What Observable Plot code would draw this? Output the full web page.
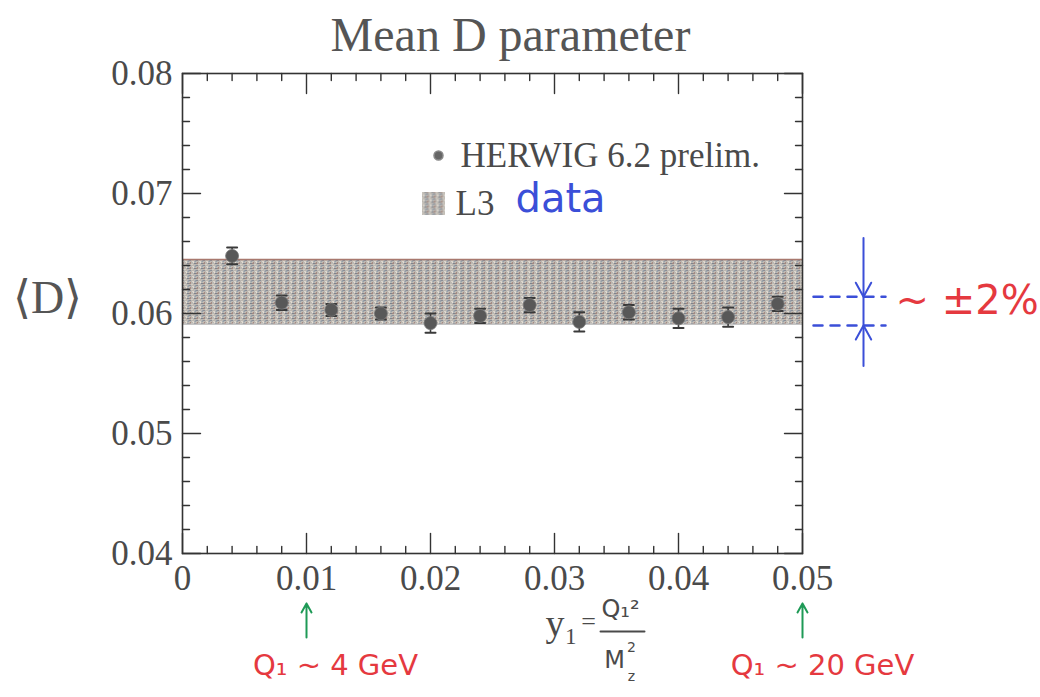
<!DOCTYPE html>
<html>
<head>
<meta charset="utf-8">
<script src="https://cdn.jsdelivr.net/npm/d3@7"></script>
<script src="https://cdn.jsdelivr.net/npm/@observablehq/plot@0.6"></script>
<style>
  body { margin: 0; background: #fff; }
  svg { display: block; }
</style>
</head>
<body>
<div id="chart"></div>
<script>
// ---- data ----
const titleText = "Mean D parameter";
const yLabelText = "⟨D⟩";
const y1Values = [0.004, 0.008, 0.012, 0.016, 0.020, 0.024, 0.028, 0.032, 0.036, 0.040, 0.044, 0.048];
const herwigMeanD = [0.0648, 0.0609, 0.0603, 0.0600, 0.0592, 0.0598, 0.0607, 0.0593, 0.0601, 0.0596, 0.0597, 0.0608];
const herwigErr = [0.0007, 0.0006, 0.0005, 0.0005, 0.0008, 0.0006, 0.0006, 0.0008, 0.0006, 0.0008, 0.0008, 0.0006];
const l3Band = [0.0591, 0.0645];            // L3 data band: low, high
const spreadLines = [0.0614, 0.0590];       // hand-drawn ±2% marks
const xTicks = [0, 0.01, 0.02, 0.03, 0.04, 0.05];
const yTicks = [0.04, 0.05, 0.06, 0.07, 0.08];
const xMinorStep = 0.002;
const yMinorStep = 0.002;
const legendLabels = ["HERWIG 6.2 prelim.", "L3", "data"];
const scaleMarkers = [0.01, 0.05];
const scaleLabels = ["Q\u2081 ~ 4 GeV", "Q\u2081 ~ 20 GeV"];
const spreadLabel = "~ ±2%";

// ---- derived ----
const pts = y1Values.map((x, i) => ({x, y: herwigMeanD[i], e: herwigErr[i]}));
const xMinor = d3.range(0, 0.05 + 1e-9, xMinorStep).filter(v => !xTicks.some(t => Math.abs(t - v) < 1e-9));
const yMinor = d3.range(0.04, 0.08 + 1e-9, yMinorStep).filter(v => !yTicks.some(t => Math.abs(t - v) < 1e-9));

const lineShape = {draw(c, l) { c.moveTo(0, 0); c.lineTo(0, -l); }};
const chevron = {draw(c, l) { c.moveTo(-l * 0.55, l); c.lineTo(0, 0); c.lineTo(l * 0.55, l); }};
const arrowUp = {draw(c, l) { c.moveTo(0, 0); c.lineTo(0, -l); c.moveTo(-5, -l + 9); c.lineTo(0, -l); c.lineTo(5, -l + 9); }};

const serif = "'Liberation Serif', 'DejaVu Serif', serif";
const sans = "'DejaVu Sans', 'Noto Sans', sans-serif";
const ink = "#4a4a4a";
const axisCol = "#333";
const blue = "#3b4fd8";
const red = "#e5393f";
const green = "#1e9a56";

function edgeTicks(values, anchor, rotate, len) {
  const key = (anchor === "left" || anchor === "right") ? "y" : "x";
  return Plot.vector(values, {[key]: d => d, frameAnchor: anchor, rotate, length: len, anchor: "start",
    shape: lineShape, stroke: axisCol, strokeWidth: 1.4});
}
function label(txt, opts) {
  return Plot.text([txt], {text: d => d, lineAnchor: "middle", textAnchor: "middle", ...opts});
}

const chart = Plot.plot({
  width: 1040,
  height: 697,
  marginLeft: 182,
  marginRight: 238,
  marginTop: 73,
  marginBottom: 144,
  x: {domain: [xTicks[0], xTicks[xTicks.length - 1]]},
  y: {domain: [yTicks[0], yTicks[yTicks.length - 1]]},
  style: {fontFamily: serif, color: ink, background: "white", overflow: "visible"},
  marks: [
    // L3 band
    Plot.rect([l3Band], {x1: xTicks[0], x2: xTicks[xTicks.length - 1], y1: d => d[0], y2: d => d[1], fill: "url(#speckle)"}),
    Plot.ruleY([l3Band[1]], {x1: xTicks[0], x2: xTicks[xTicks.length - 1], stroke: "#a8786e", strokeWidth: 1.6}),
    Plot.ruleY([l3Band[0]], {x1: xTicks[0], x2: xTicks[xTicks.length - 1], stroke: "#b7b7b7", strokeWidth: 1}),
    // HERWIG points with error bars
    Plot.ruleX(pts, {x: "x", y1: d => d.y - d.e, y2: d => d.y + d.e, stroke: "#3a3a3a", strokeWidth: 1.6}),
    Plot.vector(pts, {x: "x", y: d => d.y - d.e, rotate: 90, length: 10, anchor: "middle", shape: lineShape, stroke: "#3a3a3a", strokeWidth: 2}),
    Plot.vector(pts, {x: "x", y: d => d.y + d.e, rotate: 90, length: 10, anchor: "middle", shape: lineShape, stroke: "#3a3a3a", strokeWidth: 2}),
    Plot.dot(pts, {x: "x", y: "y", r: 6.5, fill: "#585858", stroke: "#7a7a7a", strokeWidth: 0.8}),
    // frame and inward ticks
    Plot.frame({stroke: axisCol, strokeWidth: 1.6}),
    edgeTicks(yTicks, "left", 90, 18), edgeTicks(yMinor, "left", 90, 7),
    edgeTicks(yTicks, "right", -90, 18), edgeTicks(yMinor, "right", -90, 7),
    edgeTicks(xTicks, "bottom", 0, 20), edgeTicks(xMinor, "bottom", 0, 7),
    edgeTicks(xTicks, "top", 180, 20), edgeTicks(xMinor, "top", 180, 7),
    // tick labels
    Plot.axisY(yTicks, {tickSize: 0, tickPadding: 10, tickFormat: d => d.toFixed(2), fontSize: 35, fill: ink, label: null}),
    Plot.axisX(xTicks, {tickSize: 0, tickPadding: 12, tickFormat: d => d === 0 ? "0" : d.toFixed(2), fontSize: 35, fill: ink, label: null}),
    // title and y label
    label(titleText, {frameAnchor: "top", dx: 18, dy: -38, fontSize: 48, fill: "#555"}),
    label(yLabelText, {frameAnchor: "left", dx: -135, dy: -15, fontSize: 46, fill: "#555"}),
    // legend
    Plot.dot([legendLabels[0]], {frameAnchor: "top-left", dx: 256, dy: 82, r: 4.5, fill: "#666", stroke: "#888"}),
    label(legendLabels[0], {frameAnchor: "top-left", dx: 278, dy: 82, textAnchor: "start", fontSize: 35, fill: ink}),
    Plot.dot([legendLabels[1]], {frameAnchor: "top-left", dx: 251, dy: 130, r: 13, symbol: "square", fill: "url(#speckle)"}),
    label(legendLabels[1], {frameAnchor: "top-left", dx: 273, dy: 130, textAnchor: "start", fontSize: 35, fill: ink}),
    label(legendLabels[2], {frameAnchor: "top-left", dx: 333, dy: 126, textAnchor: "start", fontSize: 40, fill: blue, fontFamily: sans}),
    // right-hand ±2% annotation
    Plot.vector(spreadLines, {y: d => d, frameAnchor: "right", dx: 11, rotate: 90, length: 72, anchor: "start", shape: lineShape, stroke: blue, strokeWidth: 2.5, strokeDasharray: "9,8"}),
    Plot.vector([d3.mean(spreadLines)], {y: d => d, frameAnchor: "right", dx: 61, dy: -9, rotate: 0, length: 128, anchor: "middle", shape: lineShape, stroke: blue, strokeWidth: 2}),
    Plot.vector([spreadLines[0]], {y: d => d, frameAnchor: "right", dx: 61, rotate: 180, length: 14, anchor: "start", shape: chevron, stroke: blue, strokeWidth: 2}),
    Plot.vector([spreadLines[1]], {y: d => d, frameAnchor: "right", dx: 61, rotate: 0, length: 14, anchor: "start", shape: chevron, stroke: blue, strokeWidth: 2}),
    label(spreadLabel, {y: d3.mean(spreadLines), frameAnchor: "right", dx: 93, dy: -10, textAnchor: "start", fontSize: 40, fill: red, fontFamily: sans}),
    // bottom annotations
    Plot.vector(scaleMarkers, {x: d => d, frameAnchor: "bottom", dy: 84, rotate: 0, length: 34, anchor: "start", shape: arrowUp, stroke: green, strokeWidth: 2}),
    label(scaleLabels[0], {x: scaleMarkers[0], frameAnchor: "bottom", dx: 29, dy: 112, fontSize: 29, fill: red, fontFamily: sans}),
    label(scaleLabels[1], {x: scaleMarkers[1], frameAnchor: "bottom", dx: 20, dy: 112, fontSize: 29, fill: red, fontFamily: sans}),
    label("y\u2081", {frameAnchor: "bottom", dx: 53, dy: 70, textAnchor: "start", fontSize: 38, fill: ink}),
    label("=", {frameAnchor: "bottom", dx: 96, dy: 68, fontSize: 26, fill: ink}),
    label("Q\u2081\u00B2", {frameAnchor: "bottom", dx: 128, dy: 56, fontSize: 24, fill: ink, fontFamily: sans}),
    Plot.vector(["bar"], {frameAnchor: "bottom", dx: 108, dy: 78, rotate: 90, length: 44, anchor: "start", shape: lineShape, stroke: ink, strokeWidth: 2}),
    label("M", {frameAnchor: "bottom", dx: 122, dy: 107, fontSize: 24, fill: ink, fontFamily: sans}),
    label("2", {frameAnchor: "bottom", dx: 139, dy: 94, fontSize: 14, fill: ink, fontFamily: sans}),
    label("z", {frameAnchor: "bottom", dx: 139, dy: 123, fontSize: 14, fill: ink, fontFamily: sans})
  ]
});

// speckled texture for the L3 band (fixed tile, not data)
const ns = "http://www.w3.org/2000/svg";
const defs = document.createElementNS(ns, "defs");
const pat = document.createElementNS(ns, "pattern");
pat.setAttribute("id", "speckle");
pat.setAttribute("width", "7");
pat.setAttribute("height", "5");
pat.setAttribute("patternUnits", "userSpaceOnUse");
const specks = [
  [0, 0, 7, 5, "#bcb8b2"],
  [0, 0, 2, 1, "#8a8e97"], [3, 1, 2, 1, "#dcd5cb"], [1, 2, 1, 2, "#a58a82"],
  [5, 3, 2, 1, "#7d838e"], [2, 4, 2, 1, "#d4cec4"], [6, 0, 1, 2, "#98a1aa"],
  [4, 2, 1, 1, "#e3ded6"], [0, 3, 1, 1, "#9e867e"], [5, 1, 1, 1, "#a7b0b6"]
];
for (const [x, y, w, h, c] of specks) {
  const r = document.createElementNS(ns, "rect");
  r.setAttribute("x", x); r.setAttribute("y", y);
  r.setAttribute("width", w); r.setAttribute("height", h);
  r.setAttribute("fill", c);
  pat.appendChild(r);
}
defs.appendChild(pat);
chart.insertBefore(defs, chart.firstChild);

document.getElementById("chart").appendChild(chart);
</script>
</body>
</html>
